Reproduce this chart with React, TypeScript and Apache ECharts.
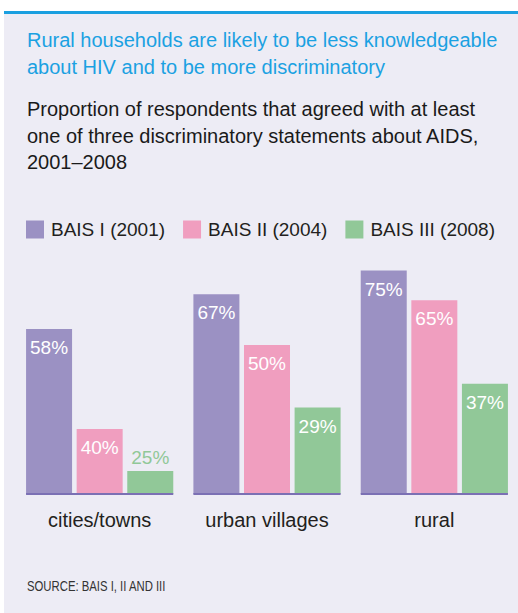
import React, { useEffect, useRef } from "react";
import * as echarts from "echarts";

const categories = ["cities/towns", "urban villages", "rural"];
const seriesNames = ["BAIS I (2001)", "BAIS II (2004)", "BAIS III (2008)"];
// printed values (%)
const bais1Labels = [58, 67, 75];
const bais2Labels = [40, 50, 65];
const bais3Labels = [25, 29, 37];
// bar heights as drawn in the reference (the cities/towns bars are not drawn to scale)
const bais1Heights = [55.4, 67, 75];
const bais2Heights = [21.8, 50, 65];
const bais3Heights = [7.7, 29, 37];

const titleText = "Rural households are likely to be less knowledgeable\nabout HIV and to be more discriminatory";
const subtitleText = "Proportion of respondents that agreed with at least\none of three discriminatory statements about AIDS,\n2001\u20132008";
const sourceText = "SOURCE: BAIS I, II AND III";

const FONT = "'Liberation Sans', Arial, Helvetica, sans-serif";
const colors = ["#9b91c3", "#f09ebf", "#91c898"];

export default function App() {
  const ref = useRef<HTMLDivElement>(null);
  useEffect(() => {
    document.body.style.margin = "0";
    const chart = echarts.init(ref.current!, null, { renderer: "svg" });
    const labelSets = [bais1Labels, bais2Labels, bais3Labels];
    const heightSets = [bais1Heights, bais2Heights, bais3Heights];
    const barSeries = heightSets.map((heights, si) => ({
      type: "bar",
      name: seriesNames[si],
      barWidth: 46,
      barGap: "10%",
      itemStyle: { color: colors[si] },
      label: {
        show: true,
        position: "insideTop",
        distance: 9,
        color: "#ffffff",
        fontSize: 19,
        fontFamily: FONT,
        formatter: (p: any) => labelSets[si][p.dataIndex] + "%",
      },
      data: heights.map((h) => {
        const tooShort = h < 15;
        return tooShort
          ? { value: h, label: { position: "top", distance: 4, color: colors[si] } }
          : { value: h };
      }),
      z: 2,
    }));

    const option: any = {
      animation: false,
      backgroundColor: "#ffffff",
      graphic: [
        { type: "rect", shape: { x: 4, y: 14, width: 514, height: 599 }, style: { fill: "#edecf5" }, z: -10 },
        { type: "rect", shape: { x: 4, y: 11, width: 514, height: 3 }, style: { fill: "#1a9fe0" }, z: -10 },
        {
          type: "text",
          x: 27,
          y: 579,
          scaleX: 0.81,
          style: { text: sourceText, fill: "#333333", fontSize: 14, fontFamily: FONT },
        },
      ],
      title: [
        {
          text: titleText,
          left: 27,
          top: 26,
          padding: 0,
          textStyle: { color: "#1ba1e2", fontSize: 20, fontWeight: "normal", lineHeight: 27, fontFamily: FONT },
        },
        {
          text: subtitleText,
          left: 27,
          top: 96,
          padding: 0,
          textStyle: { color: "#1a1a1a", fontSize: 20, fontWeight: "normal", lineHeight: 26.5, fontFamily: FONT },
        },
      ],
      legend: {
        left: 26,
        top: 220,
        padding: 0,
        icon: "rect",
        itemWidth: 18,
        itemHeight: 18,
        itemGap: 18,
        data: seriesNames,
        textStyle: { fontSize: 19, color: "#231f20", fontFamily: FONT, padding: [0, 0, 0, 2] },
      },
      grid: { left: 16, right: 0, top: 196, bottom: 119, containLabel: false },
      xAxis: {
        type: "category",
        data: categories,
        axisLine: { show: false },
        axisTick: { show: false },
        axisLabel: { fontSize: 20, color: "#231f20", margin: 16, fontFamily: FONT },
      },
      yAxis: { type: "value", min: 0, max: 100, show: false, splitLine: { show: false } },
      series: [
        ...barSeries,
        {
          type: "custom",
          silent: true,
          z: 5,
          data: categories.map((_, i) => [i, 0]),
          encode: { x: 0, y: 1 },
          renderItem: (params: any, api: any) => {
            const p = api.coord([api.value(0), 0]);
            const half = (46 * 3 + 46 * 0.1 * 2) / 2;
            return {
              type: "line",
              shape: { x1: p[0] - half, y1: p[1], x2: p[0] + half, y2: p[1] },
              style: { stroke: "#7b70b4", lineWidth: 2 },
            };
          },
        },
      ],
    };
    chart.setOption(option);
    return () => chart.dispose();
  }, []);
  return <div ref={ref} style={{ width: 518, height: 613 }} />;
}
